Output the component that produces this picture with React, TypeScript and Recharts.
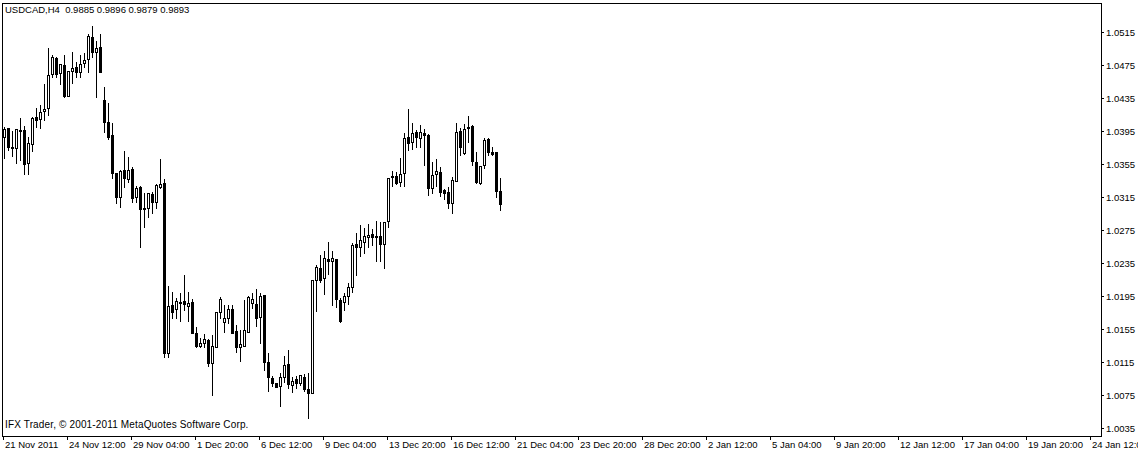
import React from 'react';
import { ComposedChart, Bar, XAxis, YAxis } from 'recharts';

// H4 candles
const opens = [
  1.0388, 1.0399, 1.0376, 1.0374, 1.0396, 1.0396, 1.0356, 1.0379, 1.0412, 1.0410,
  1.0419, 1.0423, 1.0464, 1.0484, 1.0465, 1.0475, 1.0437, 1.0468, 1.0473, 1.0467,
  1.0477, 1.0482, 1.0509, 1.0491, 1.0497, 1.0433, 1.0406, 1.0390, 1.0344, 1.0315,
  1.0348, 1.0337, 1.0349, 1.0315, 1.0327, 1.0302, 1.0302, 1.0319, 1.0309, 1.0327,
  1.0332, 1.0126, 1.0184, 1.0179, 1.0188, 1.0189, 1.0183, 1.0188, 1.0150, 1.0134,
  1.0138, 1.0142, 1.0114, 1.0133, 1.0176, 1.0164, 1.0168, 1.0179, 1.0153, 1.0133,
  1.0134, 1.0151, 1.0187, 1.0185, 1.0170, 1.0196, 1.0115, 1.0096, 1.0090, 1.0086,
  1.0097, 1.0113, 1.0087, 1.0094, 1.0090, 1.0097, 1.0082, 1.0077, 1.0215, 1.0229,
  1.0217, 1.0240, 1.0237, 1.0240, 1.0190, 1.0188, 1.0195, 1.0206, 1.0258, 1.0254,
  1.0261, 1.0267, 1.0270, 1.0267, 1.0268, 1.0258, 1.0286, 1.0339, 1.0340, 1.0333,
  1.0344, 1.0388, 1.0382, 1.0394, 1.0387, 1.0393, 1.0390, 1.0326, 1.0343, 1.0345,
  1.0324, 1.0321, 1.0308, 1.0334, 1.0395, 1.0368, 1.0399, 1.0401, 1.0357, 1.0332,
  1.0354, 1.0385, 1.0370, 1.0370, 1.0322,
];
const highs = [
  1.0400, 1.0399, 1.0395, 1.0397, 1.0411, 1.0401, 1.0388, 1.0412, 1.0423, 1.0427,
  1.0452, 1.0496, 1.0487, 1.0485, 1.0476, 1.0487, 1.0468, 1.0491, 1.0479, 1.0487,
  1.0490, 1.0513, 1.0522, 1.0504, 1.0513, 1.0448, 1.0429, 1.0405, 1.0344, 1.0348,
  1.0371, 1.0364, 1.0351, 1.0328, 1.0328, 1.0320, 1.0320, 1.0321, 1.0331, 1.0361,
  1.0337, 1.0207, 1.0200, 1.0193, 1.0199, 1.0221, 1.0200, 1.0191, 1.0157, 1.0144,
  1.0149, 1.0143, 1.0148, 1.0176, 1.0194, 1.0184, 1.0184, 1.0184, 1.0160, 1.0154,
  1.0190, 1.0195, 1.0199, 1.0204, 1.0199, 1.0196, 1.0126, 1.0098, 1.0090, 1.0102,
  1.0122, 1.0130, 1.0097, 1.0098, 1.0099, 1.0100, 1.0102, 1.0214, 1.0233, 1.0245,
  1.0250, 1.0260, 1.0250, 1.0240, 1.0193, 1.0199, 1.0211, 1.0259, 1.0271, 1.0281,
  1.0277, 1.0282, 1.0276, 1.0286, 1.0285, 1.0285, 1.0338, 1.0347, 1.0345, 1.0362,
  1.0393, 1.0422, 1.0405, 1.0396, 1.0402, 1.0397, 1.0391, 1.0357, 1.0361, 1.0351,
  1.0325, 1.0327, 1.0339, 1.0405, 1.0399, 1.0404, 1.0413, 1.0402, 1.0370, 1.0353,
  1.0387, 1.0387, 1.0376, 1.0370, 1.0338,
];
const lows = [
  1.0362, 1.0372, 1.0365, 1.0356, 1.0360, 1.0343, 1.0343, 1.0371, 1.0400, 1.0399,
  1.0408, 1.0414, 1.0461, 1.0461, 1.0452, 1.0436, 1.0437, 1.0453, 1.0461, 1.0461,
  1.0473, 1.0467, 1.0485, 1.0436, 1.0467, 1.0394, 1.0385, 1.0338, 1.0308, 1.0303,
  1.0327, 1.0333, 1.0309, 1.0309, 1.0254, 1.0279, 1.0291, 1.0296, 1.0302, 1.0326,
  1.0121, 1.0121, 1.0168, 1.0168, 1.0165, 1.0178, 1.0165, 1.0150, 1.0133, 1.0133,
  1.0133, 1.0110, 1.0075, 1.0133, 1.0168, 1.0151, 1.0162, 1.0150, 1.0127, 1.0116,
  1.0134, 1.0151, 1.0180, 1.0159, 1.0138, 1.0105, 1.0080, 1.0086, 1.0085, 1.0062,
  1.0091, 1.0084, 1.0079, 1.0084, 1.0087, 1.0080, 1.0047, 1.0077, 1.0177, 1.0212,
  1.0197, 1.0222, 1.0184, 1.0182, 1.0163, 1.0178, 1.0185, 1.0200, 1.0220, 1.0244,
  1.0247, 1.0254, 1.0257, 1.0237, 1.0237, 1.0229, 1.0279, 1.0328, 1.0331, 1.0328,
  1.0328, 1.0372, 1.0373, 1.0376, 1.0376, 1.0354, 1.0317, 1.0320, 1.0328, 1.0316,
  1.0313, 1.0302, 1.0296, 1.0334, 1.0366, 1.0367, 1.0382, 1.0354, 1.0332, 1.0331,
  1.0350, 1.0366, 1.0366, 1.0315, 1.0299,
];
const closes = [
  1.0397, 1.0376, 1.0375, 1.0397, 1.0395, 1.0355, 1.0380, 1.0411, 1.0408, 1.0418,
  1.0422, 1.0463, 1.0485, 1.0464, 1.0476, 1.0437, 1.0468, 1.0471, 1.0467, 1.0476,
  1.0481, 1.0510, 1.0491, 1.0496, 1.0467, 1.0406, 1.0388, 1.0344, 1.0315, 1.0347,
  1.0338, 1.0348, 1.0314, 1.0326, 1.0300, 1.0300, 1.0320, 1.0309, 1.0330, 1.0331,
  1.0126, 1.0183, 1.0176, 1.0189, 1.0187, 1.0185, 1.0187, 1.0150, 1.0134, 1.0138,
  1.0143, 1.0114, 1.0134, 1.0176, 1.0191, 1.0168, 1.0179, 1.0150, 1.0133, 1.0137,
  1.0154, 1.0194, 1.0191, 1.0168, 1.0195, 1.0115, 1.0097, 1.0090, 1.0085, 1.0097,
  1.0111, 1.0088, 1.0092, 1.0090, 1.0099, 1.0082, 1.0077, 1.0214, 1.0230, 1.0214,
  1.0241, 1.0237, 1.0241, 1.0191, 1.0165, 1.0195, 1.0206, 1.0257, 1.0254, 1.0263,
  1.0268, 1.0269, 1.0267, 1.0268, 1.0258, 1.0285, 1.0338, 1.0340, 1.0332, 1.0343,
  1.0387, 1.0380, 1.0393, 1.0388, 1.0394, 1.0390, 1.0326, 1.0342, 1.0347, 1.0321,
  1.0320, 1.0308, 1.0336, 1.0394, 1.0376, 1.0397, 1.0400, 1.0359, 1.0333, 1.0353,
  1.0384, 1.0370, 1.0367, 1.0322, 1.0307,
];

// time scale labels, one every 16 bars
const timeLabels = [
  '21 Nov 2011', '24 Nov 12:00', '29 Nov 04:00', '1 Dec 20:00', '6 Dec 12:00',
  '9 Dec 04:00', '13 Dec 20:00', '16 Dec 12:00', '21 Dec 04:00', '23 Dec 20:00',
  '28 Dec 20:00', '2 Jan 12:00', '5 Jan 04:00', '9 Jan 20:00', '12 Jan 12:00',
  '17 Jan 04:00', '19 Jan 20:00', '24 Jan 12:00',
];
const barsPerLabel = 16;
const totalSlots = 275;

const priceTicks = [
  1.0035, 1.0075, 1.0115, 1.0155, 1.0195, 1.0235, 1.0275,
  1.0315, 1.0355, 1.0395, 1.0435, 1.0475, 1.0515,
];
const priceDomain = [1.00253, 1.05502];

const title = 'USDCAD,H4  0.9885 0.9896 0.9879 0.9893';
const copyright = 'IFX Trader, \u00A9 2001-2011 MetaQuotes Software Corp.';

const FONT = '"Liberation Sans", Arial, sans-serif';

const data = Array.from({ length: totalSlots }).map((_, i) =>
  i < opens.length
    ? { slot: i, open: opens[i], high: highs[i], low: lows[i], close: closes[i] }
    : { slot: i }
);

const labelSlots = timeLabels.map((_, i) => i * barsPerLabel);

function Candle(props: any) {
  const { x, y, width, height, payload } = props;
  if (!payload || payload.open == null) return null;
  const { open, high, low, close } = payload;
  const top = Math.min(y, y + height);
  const h = Math.abs(height);
  const span = high - low;
  const k = span === 0 ? 0 : h / span;
  const yOf = (v: number) => top + (high - v) * k;
  const cx = Math.round(x + width / 2);
  const yH = Math.round(yOf(high));
  const yL = Math.round(yOf(low));
  const b1 = Math.round(yOf(Math.max(open, close)));
  const b2 = Math.round(yOf(Math.min(open, close)));
  return (
    <g shapeRendering="crispEdges">
      <line x1={cx + 0.5} x2={cx + 0.5} y1={yH} y2={yL + 1} stroke="#000" strokeWidth={1} />
      {close > open ? (
        <rect x={cx - 0.5} y={b1 + 0.5} width={2} height={Math.max(b2 - b1, 1)} fill="#fff" stroke="#000" strokeWidth={1} />
      ) : (
        <rect x={cx - 1} y={b1} width={3} height={Math.max(b2 - b1 + 1, 1)} fill="#000" />
      )}
    </g>
  );
}

function TimeTick(props: any) {
  const { x, y, payload } = props;
  const idx = labelSlots.indexOf(payload.value);
  const tx = Math.round(x) - 1;
  return (
    <g>
      <line x1={tx + 0.5} x2={tx + 0.5} y1={y} y2={y + 4} stroke="#000" shapeRendering="crispEdges" />
      <text x={tx + 2} y={y + 12} fontSize={9.5} fontFamily={FONT} fill="#000" textAnchor="start">
        {timeLabels[idx]}
      </text>
    </g>
  );
}

function PriceTick(props: any) {
  const { x, y, payload } = props;
  const ty = Math.round(y);
  return (
    <g>
      <line x1={x} x2={x + 3} y1={ty + 0.5} y2={ty + 0.5} stroke="#000" shapeRendering="crispEdges" />
      <text x={x + 5} y={ty + 3.5} fontSize={9.5} fontFamily={FONT} fill="#000" textAnchor="start">
        {payload.value.toFixed(4)}
      </text>
    </g>
  );
}

export default function App() {
  return (
    <div style={{ position: 'absolute', left: 0, top: 0, width: 1138, height: 452, background: '#fff' }}>
      <ComposedChart
        width={1138}
        height={452}
        data={data}
        margin={{ top: 3, right: 0, bottom: 0, left: 2 }}
        barCategoryGap={0}
      >
        <XAxis
          dataKey="slot"
          type="category"
          ticks={labelSlots}
          interval={0}
          height={16}
          tickLine={false}
          tickSize={0}
          tickMargin={0}
          tick={<TimeTick />}
          axisLine={false}
        />
        <YAxis
          orientation="right"
          type="number"
          domain={priceDomain}
          ticks={priceTicks}
          allowDataOverflow
          width={37}
          tickLine={false}
          tickSize={0}
          tickMargin={0}
          tick={<PriceTick />}
          axisLine={false}
        />
        <Bar
          dataKey={(d: any) => (d.open == null ? null : [d.low, d.high])}
          shape={<Candle />}
          isAnimationActive={false}
        />
      </ComposedChart>
      {/* chart frame round the plot area */}
      <div style={{ position: 'absolute', left: 2, top: 3, width: 1098, height: 432, border: '1px solid #000', pointerEvents: 'none' }} />
      <div style={{ position: 'absolute', left: 5, top: 3, fontFamily: FONT, fontSize: 9.5, color: '#000', whiteSpace: 'pre', lineHeight: '14px' }}>
        {title}
      </div>
      <div style={{ position: 'absolute', left: 5, top: 418, fontFamily: FONT, fontSize: 10, letterSpacing: 0.15, color: '#000', whiteSpace: 'pre', lineHeight: '14px' }}>
        {copyright}
      </div>
    </div>
  );
}
